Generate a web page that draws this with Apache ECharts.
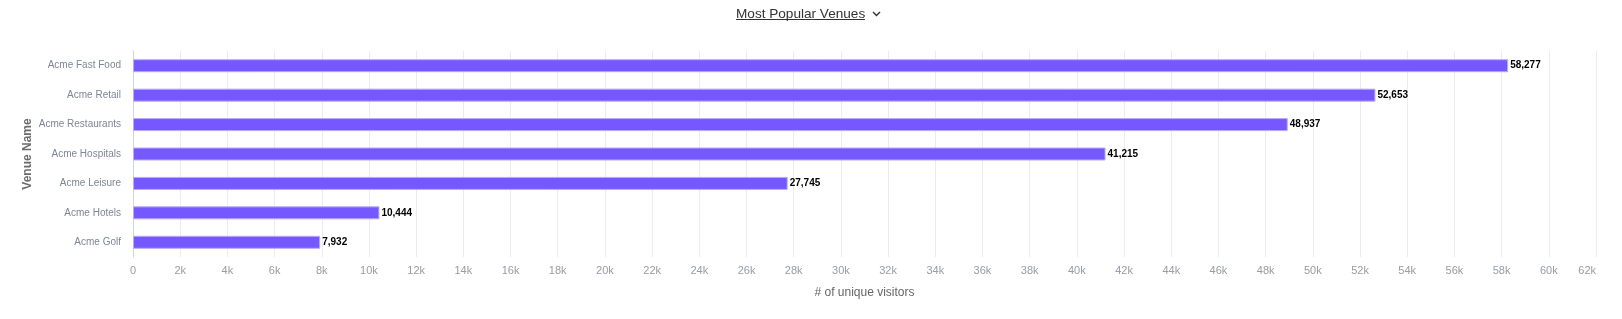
<!DOCTYPE html>
<html>
<head>
<meta charset="utf-8">
<script src="https://cdn.jsdelivr.net/npm/echarts@6/dist/echarts.min.js"></script>
<style>
html,body{margin:0;padding:0;background:#fff;}
#c{width:1622px;height:319px;}
</style>
</head>
<body>
<div id="c"></div>
<script>
var categories = ['Acme Fast Food','Acme Retail','Acme Restaurants','Acme Hospitals','Acme Leisure','Acme Hotels','Acme Golf'];
var visitors = [58277, 52653, 48937, 41215, 27745, 10444, 7932];
var chartTitle = 'Most Popular Venues';
var xAxisName = '# of unique visitors';
var yAxisName = 'Venue Name';

var chart = echarts.init(document.getElementById('c'), null, {renderer:'canvas'});
var font = '"Liberation Sans", Arial, Helvetica, sans-serif';
chart.setOption({
  animation: false,
  textStyle: {fontFamily: font},
  graphic: [
    {type:'text', left:736, top:7, style:{text: chartTitle, font:'13.6px ' + font, fill:'#333333'}},
    {type:'line', shape:{x1:736, y1:19.5, x2:865, y2:19.5}, style:{stroke:'#333333', lineWidth:1}},
    {type:'polyline', shape:{points:[[873,12],[876.5,15.5],[880,12]]}, style:{stroke:'#333333', lineWidth:1.4, fill:null}}
  ],
  grid: {left:133, right:26, top:51, bottom:62, containLabel:false},
  xAxis: {
    type:'value', min:0, max:62000, interval:2000,
    name: xAxisName, nameLocation:'middle', nameGap:30, nameMoveOverlap:false,
    nameTextStyle:{color:'#666666', fontSize:12, fontFamily:font},
    axisLine:{show:false}, axisTick:{show:false},
    splitLine:{show:true, lineStyle:{color:'#ececec', width:1}},
    axisLabel:{color:'#999ba6', fontSize:11, margin:8, fontFamily:font, alignMaxLabel:'right',
      formatter:function(v){return v===0?'0':(v/1000)+'k';}}
  },
  yAxis: {
    type:'category', data:categories, inverse:true,
    name: yAxisName, nameLocation:'middle', nameGap:99, nameRotate:90, nameMoveOverlap:false,
    nameTextStyle:{color:'#6b6b6b', fontSize:12, fontWeight:'bold', fontFamily:font},
    axisLine:{show:true, lineStyle:{color:'#ccd6eb', width:1}},
    axisTick:{show:false},
    splitLine:{show:false},
    axisLabel:{color:'#7d8596', fontSize:10, margin:12, fontFamily:font}
  },
  series: [{
    type:'bar', data:visitors, barWidth:13,
    itemStyle:{color:'#7558ff', borderColor:'#b9aaff', borderWidth:1},
    label:{show:true, position:'right', distance:2, color:'#000000', fontSize:10, fontWeight:'bold', fontFamily:font,
      formatter:function(p){return p.value.toLocaleString('en-US');}}
  }]
});
</script>
</body>
</html>
